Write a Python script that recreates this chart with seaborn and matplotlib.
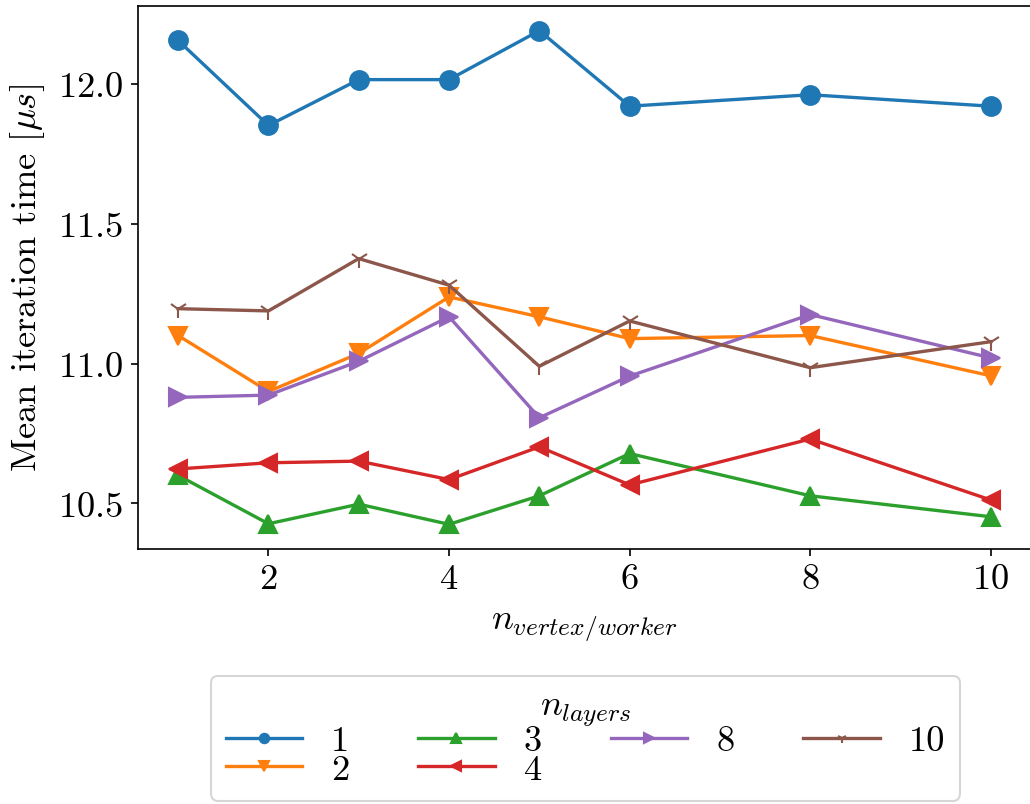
import matplotlib

matplotlib.use("Agg")
import matplotlib.pyplot as plt
import pandas as pd
import seaborn as sns

# values
VERTEX_PER_WORKER = [1, 2, 3, 4, 5, 6, 8, 10]
LAYERS = [1, 2, 3, 4, 8, 10]
TIME_L1 = [12.155, 11.851, 12.015, 12.015, 12.19, 11.92, 11.961, 11.92]
TIME_L2 = [11.10, 10.90, 11.036, 11.238, 11.167, 11.089, 11.10, 10.956]
TIME_L3 = [10.60, 10.427, 10.497, 10.425, 10.527, 10.678, 10.527, 10.452]
TIME_L4 = [10.623, 10.645, 10.651, 10.585, 10.702, 10.566, 10.73, 10.512]
TIME_L8 = [10.879, 10.887, 11.008, 11.167, 10.806, 10.955, 11.175, 11.02]
TIME_L10 = [11.196, 11.188, 11.375, 11.28, 10.99, 11.152, 10.985, 11.078]
MARKERS = ["o", "v", "^", "<", ">", "1"]

series = [TIME_L1, TIME_L2, TIME_L3, TIME_L4, TIME_L8, TIME_L10]

FONT_SIZE = 17.5
plt.rcParams["font.family"] = "serif"
plt.rcParams["font.serif"] = ["cmr10", "DejaVu Serif"]
plt.rcParams["mathtext.fontset"] = "cm"
plt.rcParams["axes.formatter.use_mathtext"] = True
plt.rcParams["font.size"] = FONT_SIZE

fig = plt.figure(figsize=(1030 / 150, 805 / 150), dpi=150)
ax = fig.add_axes([137.5 / 1030, 255 / 805, 894 / 1030, 543 / 805])

palette = sns.color_palette("tab10", len(LAYERS))
for layer, times, marker, color in zip(LAYERS, series, MARKERS, palette):
    df = pd.DataFrame({"vertex": VERTEX_PER_WORKER, "time": times})
    sns.lineplot(
        data=df,
        x="vertex",
        y="time",
        marker=marker,
        color=color,
        markersize=9,
        markeredgecolor=color,
        markeredgewidth=1.0,
        linewidth=1.6,
        label=str(layer),
        legend=False,
        ax=ax,
    )

ax.set_xlabel("$n_{vertex/worker}$", labelpad=7)
ax.set_ylabel("Mean iteration time [$\\mu s$]", labelpad=5)
ax.tick_params(labelsize=FONT_SIZE)
ax.set_yticks([10.5, 11.0, 11.5, 12.0])
ax.set_xticks([2, 4, 6, 8, 10])

handles, labels = ax.get_legend_handles_labels()
fig.legend(
    handles,
    labels,
    title="$n_{layers}$",
    loc="upper center",
    bbox_to_anchor=(585.5 / 1030, 128 / 805),
    borderaxespad=0,
    ncol=4,
    fontsize=FONT_SIZE,
    title_fontsize=FONT_SIZE,
    handlelength=2.1,
    columnspacing=1.88,
    labelspacing=-0.1,
    markerscale=0.5,
)

fig.savefig("out.png", dpi=150)
